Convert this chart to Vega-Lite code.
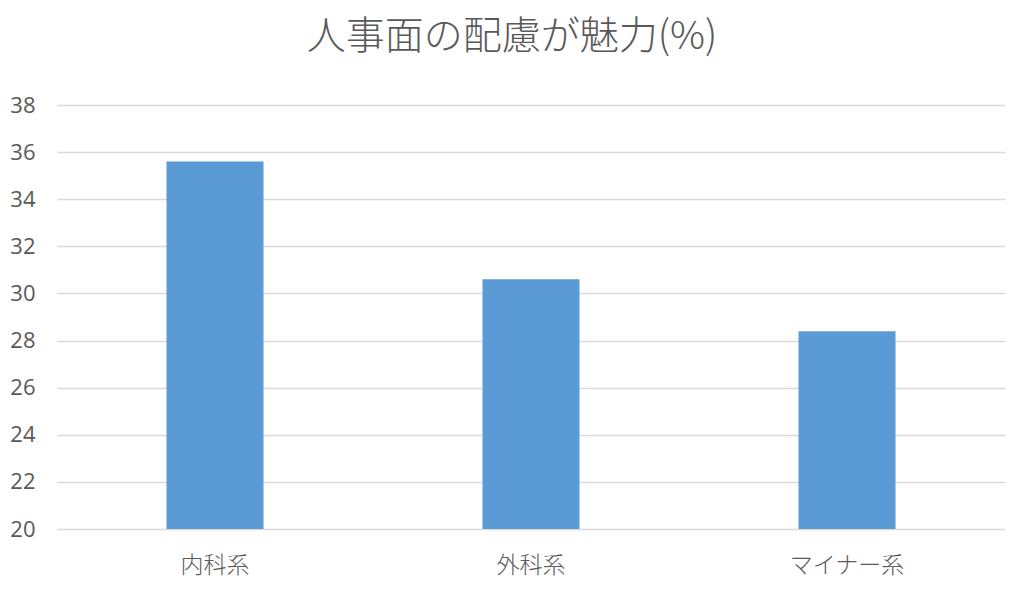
{
  "$schema": "https://vega.github.io/schema/vega-lite/v6.json",
  "autosize": "none",
  "padding": {"left": 57, "top": 105, "right": 24, "bottom": 68},
  "width": 948,
  "height": 424,
  "background": "white",
  "title": {
    "text": "人事面の配慮が魅力(%)",
    "font": "Noto Sans CJK JP",
    "fontSize": 39,
    "fontWeight": 300,
    "color": "#595959",
    "anchor": "middle",
    "dx": -19,
    "offset": 37
  },
  "data": {
    "values": [
      {"group": "内科系", "pct": 35.6},
      {"group": "外科系", "pct": 30.6},
      {"group": "マイナー系", "pct": 28.4}
    ]
  },
  "config": {
    "view": {"stroke": null},
    "axis": {
      "labelColor": "#595959",
      "domain": false,
      "ticks": false,
      "title": null
    }
  },
  "mark": {"type": "bar", "color": "#5b9bd5", "width": {"band": 0.307}},
  "encoding": {
    "x": {
      "field": "group",
      "type": "nominal",
      "sort": null,
      "scale": {"paddingInner": 0, "paddingOuter": 0},
      "axis": {
        "labelAngle": 0,
        "labelPadding": 25,
        "labelFont": "Noto Sans CJK JP",
        "labelFontSize": 23,
        "labelFontWeight": 300,
        "grid": false
      }
    },
    "y": {
      "field": "pct",
      "type": "quantitative",
      "scale": {"domain": [20, 38], "zero": false},
      "axis": {
        "values": [20, 22, 24, 26, 28, 30, 32, 34, 36, 38],
        "labelFont": "Open Sans",
        "labelFontSize": 22,
        "labelPadding": 22,
        "grid": true,
        "gridColor": "#d9d9d9",
        "gridWidth": 1.5
      }
    },
    "y2": {"datum": 20}
  }
}
